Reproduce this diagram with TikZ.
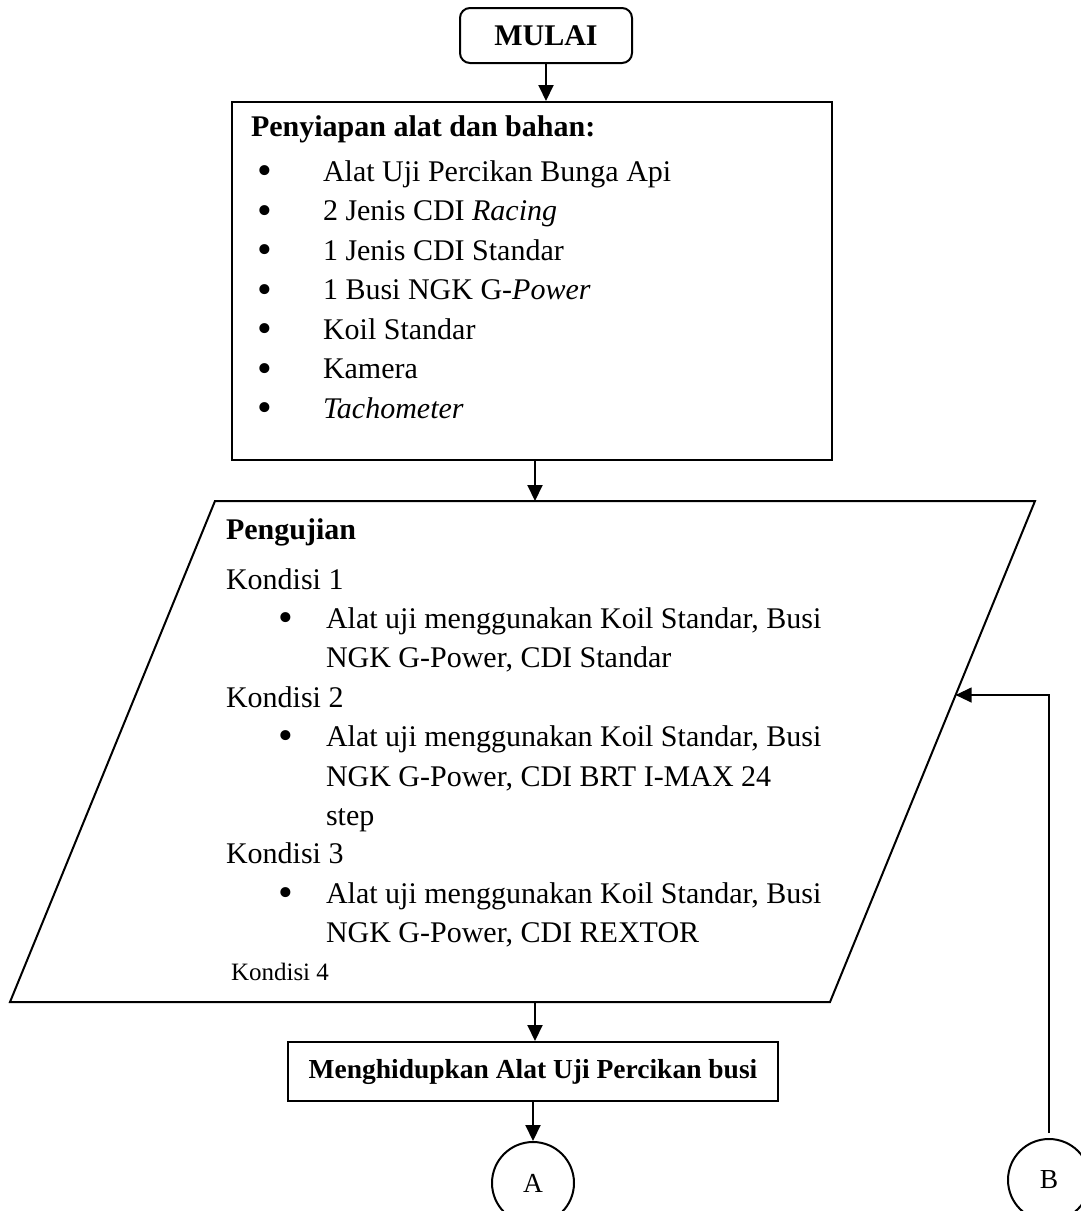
\documentclass[tikz,border=0pt]{standalone}
\usepackage{fontspec}
\setmainfont{Liberation Serif}
\usetikzlibrary{arrows.meta}
\begin{document}
\begin{tikzpicture}[x=1pt,y=-1pt,
  line width=2pt, line join=miter,
  flow/.style={-{Triangle[width=15pt,length=16pt]}, line width=2pt},
  body/.style={font=\fontsize{30}{36}\selectfont},
  txt/.style={body, anchor=base west, inner sep=0pt},
  bul/.style={font=\fontsize{42}{42}\selectfont, anchor=base, inner sep=0pt, yshift=-3.5pt},
  boxed/.style={draw, line width=2pt, inner sep=0pt},
  conn/.style={draw, circle, line width=2pt, minimum size=82pt, inner sep=0pt,
               font=\fontsize{27.5}{33}\selectfont}
]
\useasboundingbox (0,0) rectangle (1080,1211);

% start terminal
\node[boxed, rounded corners=10pt, minimum width=172pt, minimum height=55pt,
      font=\bfseries\fontsize{30}{36}\selectfont] (mulai) at (546,35.5) {MULAI};

% preparation box
\node[boxed, minimum width=600pt, minimum height=358pt] (prep) at (532,281) {};
\node[txt, font=\bfseries\fontsize{30}{36}\selectfont] (prepT) at (250,136) {Penyiapan alat dan bahan:};
\foreach \i/\t in {1/{Alat Uji Percikan Bunga Api},
                   2/{2 Jenis CDI \textit{Racing}},
                   3/{1 Jenis CDI Standar},
                   4/{1 Busi NGK G-\textit{Power}},
                   5/{Koil Standar},
                   6/{Kamera},
                   7/{\textit{Tachometer}}}{
  \node[bul] (pb\i) at (265,{181+39.5*(\i-1)}) {•};
  \node[txt] (pi\i) at (322,{181+39.5*(\i-1)}) {\t};
}

% test parallelogram
\coordinate (ptl) at (215,501);
\coordinate (ptr) at (1035,501);
\coordinate (pbr) at (830,1002);
\coordinate (pbl) at (10,1002);
\coordinate (ptop) at (535,501);
\coordinate (pbot) at (535,1002);
\coordinate (pB) at (955.6,695);
\draw (ptl) -- (ptr) -- (pbr) -- (pbl) -- cycle;

\node[txt, font=\bfseries\fontsize{30}{36}\selectfont] (uji) at (225,539) {Pengujian};
\node[txt] (k1) at (225,589) {Kondisi 1};
\node[bul] (k1b) at (286,628) {•};
\node[txt] (k1a) at (325,628) {Alat uji menggunakan Koil Standar, Busi};
\node[txt] (k1c) at (325,667) {NGK G-Power, CDI Standar};
\node[txt] (k2) at (225,707) {Kondisi 2};
\node[bul] (k2b) at (286,746) {•};
\node[txt] (k2a) at (325,746) {Alat uji menggunakan Koil Standar, Busi};
\node[txt] (k2c) at (325,786) {NGK G-Power, CDI BRT I-MAX 24};
\node[txt] (k2d) at (325,825) {step};
\node[txt] (k3) at (225,863) {Kondisi 3};
\node[bul] (k3b) at (286,903) {•};
\node[txt] (k3a) at (325,903) {Alat uji menggunakan Koil Standar, Busi};
\node[txt] (k3c) at (325,942) {NGK G-Power, CDI REXTOR};
\node[txt, font=\fontsize{25}{30}\selectfont] (k4) at (230,980) {Kondisi 4};

% switching on
\node[boxed, minimum width=490pt, minimum height=59pt,
      font=\bfseries\fontsize{27.5}{33}\selectfont] (nyala) at (533,1071.5)
      {Menghidupkan Alat Uji Percikan busi};

% off-page connectors
\node[conn] (ca) at (533,1183) {A};
\node[conn] (cb) at (1049,1180) {B};

% flow lines
\draw[flow] (mulai.south) -- (mulai.south |- prep.north);
\draw[flow] (prep.south -| ptop) -- (ptop);
\draw[flow] (pbot) -- (pbot |- nyala.north);
\draw[flow] (nyala.south) -- (ca.north);
\draw[flow, line width=1.3pt, shorten <=5pt] (cb.north) |- (pB);
\end{tikzpicture}
\end{document}
